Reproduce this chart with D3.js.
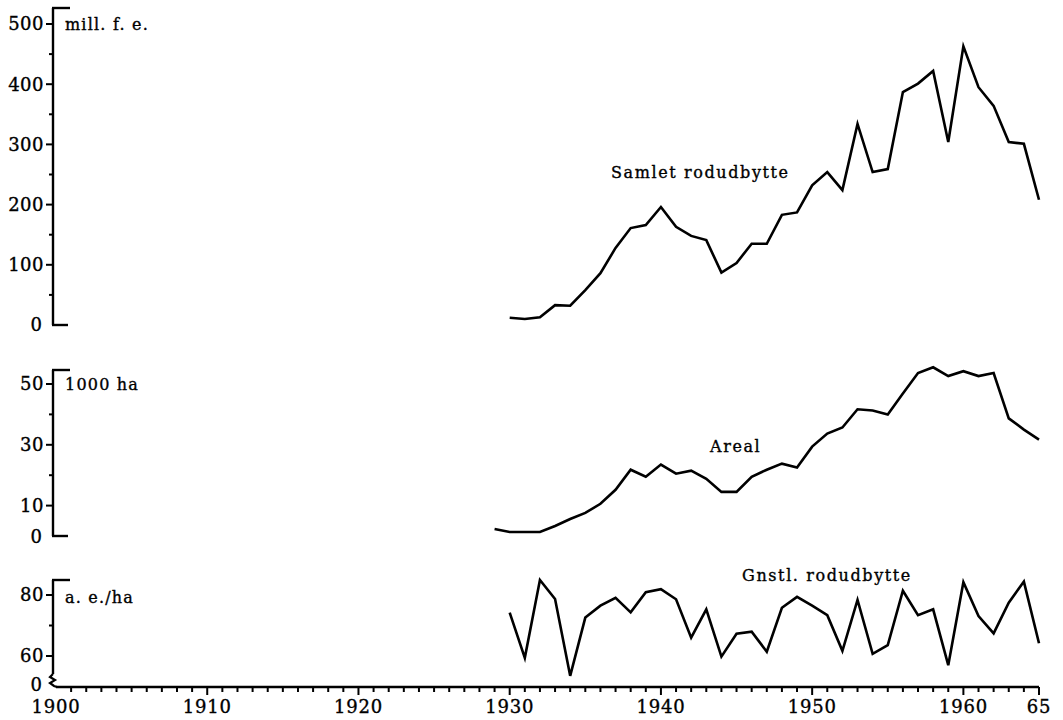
<!DOCTYPE html>
<html><head><meta charset="utf-8">
<script src="https://cdn.jsdelivr.net/npm/d3@7"></script>
<style>
body{margin:0;background:#fff;}
svg{display:block;}
text{font-family:"DejaVu Serif","Liberation Serif",serif;fill:#000;stroke:#000;stroke-width:0.35px;}
</style></head><body>
<svg id="c" width="1063" height="720"></svg>
<script>
// ---- data ----
const yearsTotal = d3.range(1930, 1966);
const totalYield = [12,10,13,33,32,58,86,128,161,166,196,163,148,141,87,103,135,135,183,187,232,254,224,334,254,259,387,401,422,304,463,395,364,304,301,208];
const yearsArea = d3.range(1929, 1966);
const areaValues = [2.3,1.3,1.3,1.3,3.3,5.6,7.6,10.6,15.2,21.8,19.5,23.5,20.5,21.5,18.8,14.5,14.5,19.5,21.8,23.8,22.5,29.4,33.7,35.7,41.7,41.3,40.0,46.9,53.6,55.5,52.6,54.2,52.6,53.6,38.7,35.0,31.7];
const yearsAvg = d3.range(1930, 1966);
const avgYield = [74.2,59.4,84.9,78.7,53.5,72.6,76.5,79.1,74.3,80.9,81.9,78.6,66.0,75.3,59.8,67.3,68.0,61.4,75.8,79.4,76.5,73.4,61.7,78.4,60.7,63.6,81.4,73.4,75.3,57.0,84.2,73.1,67.4,77.5,84.4,64.2];
const xTickYears = [1900,1910,1920,1930,1940,1950,1960,1965];
const xTickLabels = ["1900","1910","1920","1930","1940","1950","1960","65"];
const topTicks = [0,100,200,300,400,500];
const midTicks = [10,30,50];
const botTicks = [60,80];
const unitLabels = ["mill. f. e.","1000 ha","a. e./ha"];
const seriesLabels = ["Samlet rodudbytte","Areal","Gnstl. rodudbytte"];

// ---- scales ----
const svg = d3.select("#c");
const axX = 53;
const x = d3.scaleLinear().domain([1900,1965]).range([56,1039]);
const yTop = d3.scaleLinear().domain([0,500]).range([325,24]);
const yMid = d3.scaleLinear().domain([0,50]).range([536,384]);
const yBot = d3.scaleLinear().domain([60,80]).range([656,595]);

const ink = "#000";
const tickFont = 18;
function bracketAxis(scale, yTopPx, yBotPx, majors, minors, footBottom){
  const g = svg.append("g");
  g.append("line").attr("x1",axX).attr("x2",axX).attr("y1",yTopPx).attr("y2",yBotPx)
    .attr("stroke",ink).attr("stroke-width",2.4);
  g.append("line").attr("x1",axX-1).attr("x2",axX+17).attr("y1",yTopPx).attr("y2",yTopPx)
    .attr("stroke",ink).attr("stroke-width",2.4);
  if(footBottom){
    g.append("line").attr("x1",axX-1).attr("x2",axX+15).attr("y1",yBotPx).attr("y2",yBotPx)
      .attr("stroke",ink).attr("stroke-width",2.4);
  }
  g.selectAll("line.maj").data(majors).join("line").attr("class","maj")
    .attr("x1",axX-7).attr("x2",axX).attr("y1",d=>scale(d)).attr("y2",d=>scale(d))
    .attr("stroke",ink).attr("stroke-width",2);
  g.selectAll("line.min").data(minors).join("line").attr("class","min")
    .attr("x1",axX-4).attr("x2",axX).attr("y1",d=>scale(d)).attr("y2",d=>scale(d))
    .attr("stroke",ink).attr("stroke-width",2);
  g.selectAll("text").data(majors).join("text")
    .attr("x",axX-9).attr("y",d=>scale(d)).attr("dy","0.36em")
    .attr("text-anchor","end").attr("font-size",tickFont).attr("letter-spacing","0.5px").text(d=>d);
  return g;
}

// top panel
bracketAxis(yTop, 8, yTop(0), topTicks.filter(d=>d>0), d3.range(50,500,100), true);
svg.append("text").attr("x",axX-11).attr("y",yTop(0)).attr("dy","0.36em")
  .attr("text-anchor","end").attr("font-size",tickFont).text("0");
// middle panel
bracketAxis(yMid, 370, yMid(0), midTicks, [20,40], true);
svg.append("text").attr("x",axX-11).attr("y",yMid(0)+1).attr("dy","0.36em")
  .attr("text-anchor","end").attr("font-size",tickFont).text("0");
// bottom panel (broken axis)
const xAxisY = 687;
bracketAxis(yBot, 580, 674, botTicks, [70], false);
svg.append("path")
  .attr("d",`M${axX},674 L${axX-3},677 L${axX+2},680 L${axX-3},683 L${axX+1},686 L${axX+4},${xAxisY}`)
  .attr("fill","none").attr("stroke",ink).attr("stroke-width",2.2);
svg.append("text").attr("x",axX-11).attr("y",xAxisY-2).attr("dy","0.36em")
  .attr("text-anchor","end").attr("font-size",tickFont).text("0");

// x axis
svg.append("line").attr("x1",axX+3).attr("x2",x(1965)).attr("y1",xAxisY).attr("y2",xAxisY)
  .attr("stroke",ink).attr("stroke-width",2.4);
const allYears = d3.range(1901,1966);
svg.selectAll("line.xt").data(allYears).join("line").attr("class","xt")
  .attr("x1",d=>x(d)).attr("x2",d=>x(d)).attr("y1",xAxisY)
  .attr("y2",d=> (d%10===0 || d===1965) ? xAxisY+8 : xAxisY+5)
  .attr("stroke",ink).attr("stroke-width",2);
svg.selectAll("text.xl").data(xTickYears).join("text").attr("class","xl")
  .attr("x",(d)=>x(d)).attr("y",713).attr("text-anchor","middle")
  .attr("font-size",tickFont).attr("letter-spacing","0.8px").text((d,i)=>xTickLabels[i]);

// unit labels
const unitY = [30, 390, 603];
svg.selectAll("text.unit").data(unitLabels).join("text").attr("class","unit")
  .attr("x",65).attr("y",(d,i)=>unitY[i]).attr("font-size",16)
  .attr("letter-spacing","1.2px").text(d=>d);

// lines
const lineGen = (ys, sc) => d3.line().x((d,i)=>x(ys[i])).y(d=>sc(d));
function drawLine(years, vals, sc){
  svg.append("path").datum(vals).attr("d", lineGen(years, sc))
    .attr("fill","none").attr("stroke",ink).attr("stroke-width",2.6)
    .attr("stroke-linejoin","miter");
}
drawLine(yearsTotal, totalYield, yTop);
drawLine(yearsArea, areaValues, yMid);
drawLine(yearsAvg, avgYield, yBot);

// series labels
const sLab = [{x:611,y:178},{x:710,y:452},{x:742,y:581}];
svg.selectAll("text.ser").data(seriesLabels).join("text").attr("class","ser")
  .attr("x",(d,i)=>sLab[i].x).attr("y",(d,i)=>sLab[i].y).attr("font-size",16)
  .attr("letter-spacing","1.6px").text(d=>d);
</script></body></html>
